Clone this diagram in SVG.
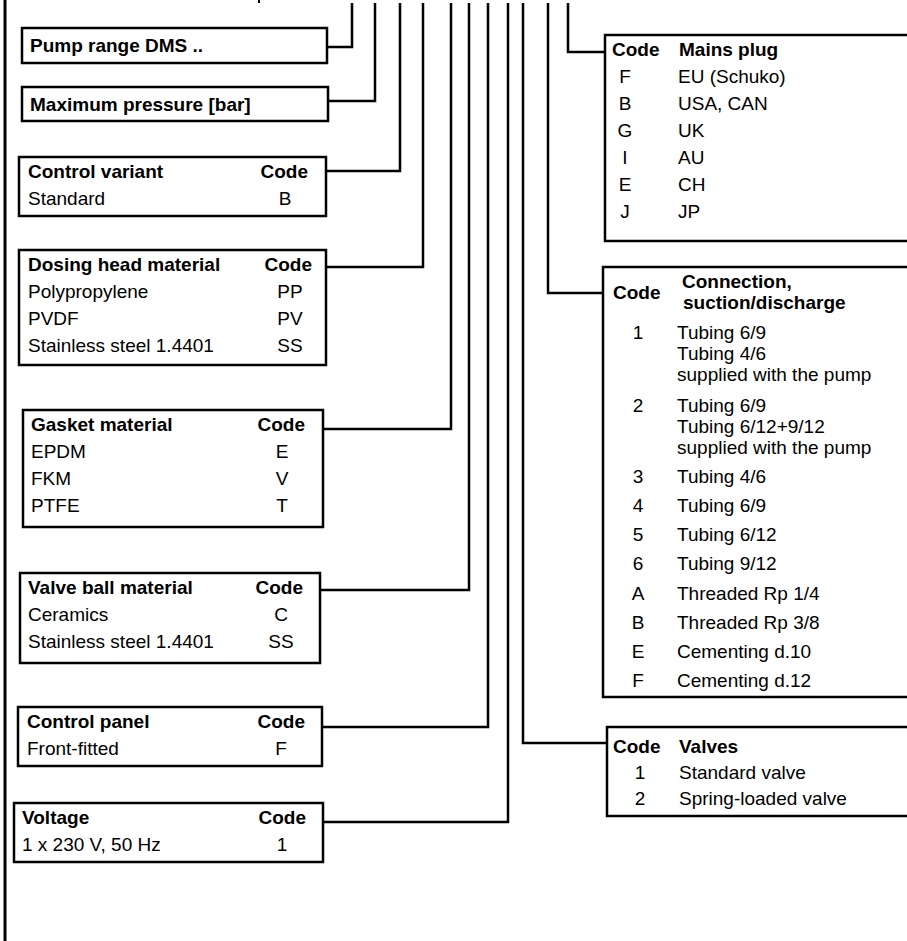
<svg xmlns="http://www.w3.org/2000/svg" width="907" height="941" viewBox="0 0 907 941">
<style>
.box{fill:#fff;stroke:#000;stroke-width:2.5}
.ln{fill:none;stroke:#000;stroke-width:2.5}
text{font-family:"Liberation Sans",Arial,sans-serif;font-size:19px;fill:#000}
.b{font-weight:bold}
.m{text-anchor:middle}
.e{text-anchor:end}
</style>
<rect width="907" height="941" fill="#fff"/>
<rect x="258" y="0" width="2" height="3" fill="#000"/>
<g id="connectors">
<line x1="5" y1="0" x2="5" y2="941" stroke="#000" stroke-width="3"/>
<polyline class="ln" points="327,47 352,47 352,3"/>
<polyline class="ln" points="328,101 375,101 375,3"/>
<polyline class="ln" points="326,171 400,171 400,3"/>
<polyline class="ln" points="326,267 423,267 423,3"/>
<polyline class="ln" points="323,429 451,429 451,3"/>
<polyline class="ln" points="320,590 469,590 469,3"/>
<polyline class="ln" points="322,727 488,727 488,3"/>
<polyline class="ln" points="323,822 508,822 508,3"/>
<polyline class="ln" points="607,743 523,743 523,3"/>
<polyline class="ln" points="603,293 548,293 548,3"/>
<polyline class="ln" points="605,52 568,52 568,3"/>
</g>
<g id="pump-range">
<rect class="box" x="22" y="28" width="305" height="35"/>
<text class="b" x="30" y="52">Pump range DMS ..</text>
</g>
<g id="max-pressure">
<rect class="box" x="22" y="87" width="306" height="34"/>
<text class="b" x="30" y="111">Maximum pressure [bar]</text>
</g>
<g id="control-variant">
<rect class="box" x="19" y="157" width="307" height="59"/>
<text class="b" x="28" y="178">Control variant</text>
<text class="b e" x="308" y="178">Code</text>
<text x="28" y="205">Standard</text>
<text class="m" x="285" y="205">B</text>
</g>
<g id="dosing-head">
<rect class="box" x="19" y="250" width="307" height="115"/>
<text class="b" x="28" y="271">Dosing head material</text>
<text class="b e" x="312" y="271">Code</text>
<text x="28" y="298">Polypropylene</text>
<text class="m" x="290" y="298">PP</text>
<text x="28" y="325">PVDF</text>
<text class="m" x="290" y="325">PV</text>
<text x="28" y="352">Stainless steel 1.4401</text>
<text class="m" x="290" y="352">SS</text>
</g>
<g id="gasket">
<rect class="box" x="23" y="410" width="300" height="117"/>
<text class="b" x="31" y="431">Gasket material</text>
<text class="b e" x="305" y="431">Code</text>
<text x="31" y="458">EPDM</text>
<text class="m" x="282" y="458">E</text>
<text x="31" y="485">FKM</text>
<text class="m" x="282" y="485">V</text>
<text x="31" y="512">PTFE</text>
<text class="m" x="282" y="512">T</text>
</g>
<g id="valve-ball">
<rect class="box" x="20" y="573" width="300" height="90"/>
<text class="b" x="28" y="594">Valve ball material</text>
<text class="b e" x="303" y="594">Code</text>
<text x="28" y="621">Ceramics</text>
<text class="m" x="281" y="621">C</text>
<text x="28" y="648">Stainless steel 1.4401</text>
<text class="m" x="281" y="648">SS</text>
</g>
<g id="control-panel">
<rect class="box" x="18" y="707" width="304" height="59"/>
<text class="b" x="27" y="728">Control panel</text>
<text class="b e" x="305" y="728">Code</text>
<text x="27" y="755">Front-fitted</text>
<text class="m" x="281" y="755">F</text>
</g>
<g id="voltage">
<rect class="box" x="14" y="803" width="309" height="59"/>
<text class="b" x="22" y="824">Voltage</text>
<text class="b e" x="306" y="824">Code</text>
<text x="22" y="851">1 x 230 V, 50 Hz</text>
<text class="m" x="282" y="851">1</text>
</g>
<g id="mains-plug">
<rect class="box" x="605" y="35" width="320" height="206"/>
<text class="b" x="612" y="56">Code</text>
<text class="b" x="679" y="56">Mains plug</text>
<text class="m" x="625" y="83">F</text><text x="678" y="83">EU (Schuko)</text>
<text class="m" x="625" y="110">B</text><text x="678" y="110">USA, CAN</text>
<text class="m" x="625" y="137">G</text><text x="678" y="137">UK</text>
<text class="m" x="625" y="164">I</text><text x="678" y="164">AU</text>
<text class="m" x="625" y="191">E</text><text x="678" y="191">CH</text>
<text class="m" x="625" y="218">J</text><text x="678" y="218">JP</text>
</g>
<g id="connection">
<rect class="box" x="603" y="267" width="320" height="430"/>
<text class="b" x="613" y="299">Code</text>
<text class="b" x="682" y="288">Connection,</text>
<text class="b" x="683" y="309">suction/discharge</text>
<text class="m" x="638" y="339">1</text>
<text x="677" y="339">Tubing 6/9</text>
<text x="677" y="360">Tubing 4/6</text>
<text x="677" y="381">supplied with the pump</text>
<text class="m" x="638" y="412">2</text>
<text x="677" y="412">Tubing 6/9</text>
<text x="677" y="433">Tubing 6/12+9/12</text>
<text x="677" y="454">supplied with the pump</text>
<text class="m" x="638" y="483">3</text><text x="677" y="483">Tubing 4/6</text>
<text class="m" x="638" y="512">4</text><text x="677" y="512">Tubing 6/9</text>
<text class="m" x="638" y="541">5</text><text x="677" y="541">Tubing 6/12</text>
<text class="m" x="638" y="570">6</text><text x="677" y="570">Tubing 9/12</text>
<text class="m" x="638" y="600">A</text><text x="677" y="600">Threaded Rp 1/4</text>
<text class="m" x="638" y="629">B</text><text x="677" y="629">Threaded Rp 3/8</text>
<text class="m" x="638" y="658">E</text><text x="677" y="658">Cementing d.10</text>
<text class="m" x="638" y="687">F</text><text x="677" y="687">Cementing d.12</text>
</g>
<g id="valves">
<rect class="box" x="607" y="727" width="320" height="89"/>
<text class="b" x="613" y="753">Code</text>
<text class="b" x="679" y="753">Valves</text>
<text class="m" x="640" y="779">1</text><text x="679" y="779">Standard valve</text>
<text class="m" x="640" y="805">2</text><text x="679" y="805">Spring-loaded valve</text>
</g>
</svg>
